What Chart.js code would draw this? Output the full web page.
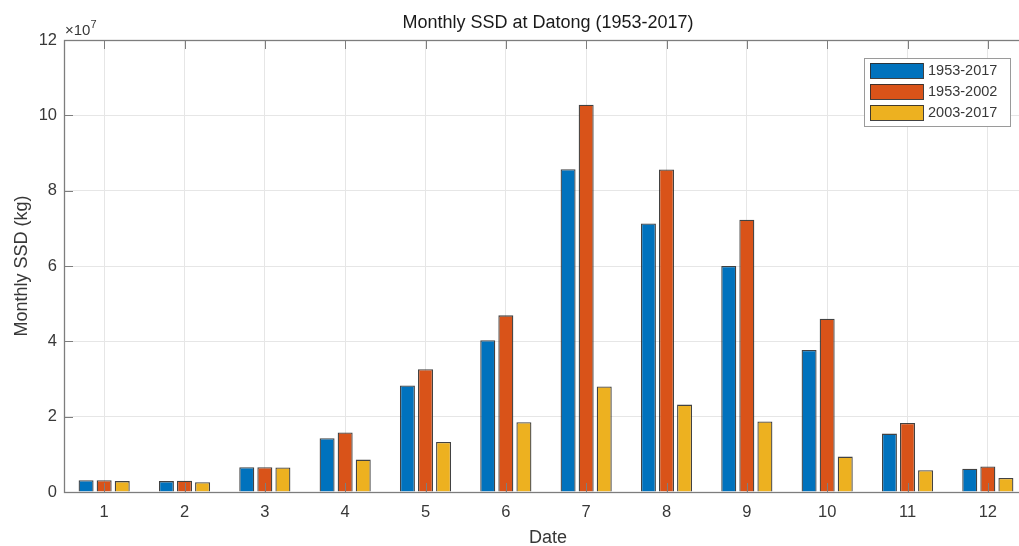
<!DOCTYPE html>
<html>
<head>
<meta charset="utf-8">
<script src="https://cdn.jsdelivr.net/npm/chart.js@4/dist/chart.umd.min.js"></script>
<style>
  html, body { margin: 0; padding: 0; background: #fff; overflow: hidden; }
  #wrap { width: 1032px; height: 546px; }
</style>
</head>
<body>
<div id="wrap"><canvas id="ssdChart" width="1032" height="546"></canvas></div>
<script>
// Monthly sediment discharge at Datong, in units of 1e7 kg
const months = ['1', '2', '3', '4', '5', '6', '7', '8', '9', '10', '11', '12'];
const ssdAll   = [0.31, 0.29, 0.66, 1.43, 2.83, 4.03, 8.57, 7.13, 6.00, 3.77, 1.55, 0.62];
const ssdEarly = [0.31, 0.30, 0.66, 1.58, 3.26, 4.69, 10.28, 8.56, 7.23, 4.60, 1.83, 0.68];
const ssdLate  = [0.29, 0.26, 0.65, 0.86, 1.33, 1.85, 2.80, 2.32, 1.87, 0.94, 0.58, 0.37];
const seriesLabels = ['1953-2017', '1953-2002', '2003-2017'];
const yTicks = [0, 2, 4, 6, 8, 10, 12];

const COLORS = ['#0072BD', '#D95319', '#EDB120'];
const FONT = "'Liberation Sans', Arial, sans-serif";
const AXIS = '#7d7d7d';
const TEXT = '#383838';
const EDGE = 'rgba(45,45,45,0.9)';

// MATLAB-ish axes decoration: box, inner ticks, title, labels, exponent, legend
const axesDecor = {
  id: 'axesDecor',
  afterDatasetsDraw(chart) {
    const { ctx, chartArea: a, scales } = chart;
    const x = scales.x, y = scales.y;
    const tl = 9;
    ctx.save();
    ctx.strokeStyle = AXIS;
    ctx.lineWidth = 1;
    ctx.beginPath();
    months.forEach((m, i) => {
      const px = Math.round(x.getPixelForValue(i)) + 0.5;
      ctx.moveTo(px, a.bottom); ctx.lineTo(px, a.bottom - tl);
      ctx.moveTo(px, a.top); ctx.lineTo(px, a.top + tl);
    });
    yTicks.forEach(v => {
      const py = Math.round(y.getPixelForValue(v)) + 0.5;
      ctx.moveTo(a.left, py); ctx.lineTo(a.left + tl, py);
      ctx.moveTo(a.right, py); ctx.lineTo(a.right - tl, py);
    });
    ctx.stroke();
    ctx.lineWidth = 1.3;
    ctx.strokeRect(Math.round(a.left) + 0.5, Math.round(a.top) + 0.5,
      Math.round(a.right - a.left), Math.round(a.bottom - a.top));

    // exponent label
    ctx.fillStyle = TEXT;
    ctx.textBaseline = 'alphabetic';
    ctx.textAlign = 'left';
    ctx.font = `15px ${FONT}`;
    ctx.fillText('\u00d710', a.left + 1, a.top - 5);
    const w = ctx.measureText('\u00d710').width;
    ctx.font = `11px ${FONT}`;
    ctx.fillText('7', a.left + 1 + w, a.top - 12);

    // title and axis labels
    ctx.fillStyle = '#1a1a1a';
    ctx.textAlign = 'center';
    ctx.textBaseline = 'middle';
    ctx.font = `18px ${FONT}`;
    ctx.fillText('Monthly SSD at Datong (1953-2017)', 548, 23);
    ctx.fillStyle = TEXT;
    ctx.fillText('Date', 548, 538);
    ctx.save();
    ctx.translate(22, 266);
    ctx.rotate(-Math.PI / 2);
    ctx.fillText('Monthly SSD (kg)', 0, 0);
    ctx.restore();

    // legend
    const lx = 864, ly = 58, lw = 146, lh = 68;
    ctx.fillStyle = '#fff';
    ctx.fillRect(lx, ly, lw, lh);
    ctx.strokeStyle = '#9a9a9a';
    ctx.lineWidth = 1;
    ctx.strokeRect(lx + 0.5, ly + 0.5, lw, lh);
    ctx.font = `14.5px ${FONT}`;
    ctx.textAlign = 'left';
    chart.data.datasets.forEach((ds, i) => {
      const ry = ly + 12 + i * 21;
      ctx.fillStyle = ds.backgroundColor;
      ctx.fillRect(870, ry - 7, 53, 15);
      ctx.strokeStyle = EDGE;
      ctx.strokeRect(870.5, ry - 6.5, 53, 15);
      ctx.fillStyle = TEXT;
      ctx.fillText(ds.label, 928, ry + 1);
    });
    ctx.restore();
  }
};

function makeDataset(label, data, color) {
  return {
    label,
    data,
    backgroundColor: color,
    borderColor: EDGE,
    borderWidth: 1.3,
    categoryPercentage: 0.675,
    barPercentage: 0.83,
  };
}

new Chart(document.getElementById('ssdChart').getContext('2d'), {
  type: 'bar',
  data: {
    labels: months,
    datasets: [
      makeDataset(seriesLabels[0], ssdAll, COLORS[0]),
      makeDataset(seriesLabels[1], ssdEarly, COLORS[1]),
      makeDataset(seriesLabels[2], ssdLate, COLORS[2]),
    ]
  },
  options: {
    responsive: false,
    animation: false,
    layout: { padding: { top: 40, right: 4, left: 0, bottom: 0 } },
    plugins: {
      legend: { display: false },
      title: { display: false },
      tooltip: { enabled: false },
    },
    scales: {
      x: {
        offset: true,
        grid: { offset: false, color: '#e6e6e6', drawTicks: false },
        border: { display: false },
        ticks: { color: TEXT, font: { family: FONT, size: 16.5 }, padding: 11 },
        afterFit: s => { s.height = 54; },
      },
      y: {
        min: 0,
        max: 12,
        grid: { color: '#e6e6e6', drawTicks: false },
        border: { display: false },
        afterBuildTicks: s => { s.ticks = yTicks.map(v => ({ value: v })); },
        ticks: { color: TEXT, font: { family: FONT, size: 16.5 }, padding: 7 },
        afterFit: s => { s.width = 64; },
      }
    }
  },
  plugins: [axesDecor]
});
</script>
</body>
</html>
